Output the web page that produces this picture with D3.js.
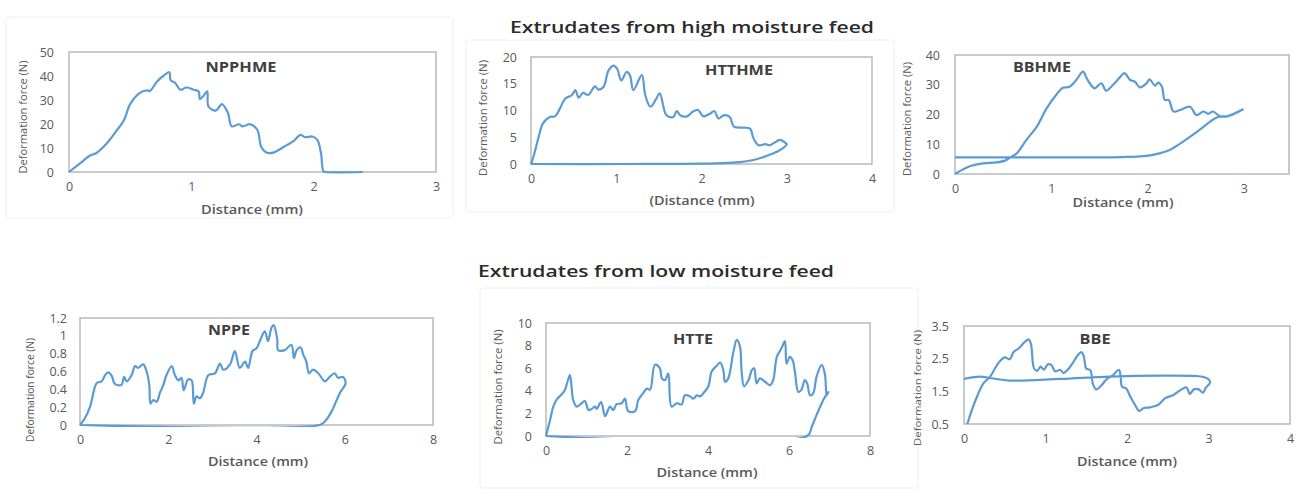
<!DOCTYPE html>
<html><head><meta charset="utf-8">
<script src="https://cdn.jsdelivr.net/npm/d3@7"></script>
<style>body{margin:0;background:#fff}svg{display:block}</style>
</head><body><svg id="c" width="1299" height="493"></svg>
<script>
// ---------- data (distance mm, force N) ----------
const npphme = [[0,0],[0.09,3.6],[0.17,6.8],[0.22,7.8],[0.31,12],[0.39,17.3],[0.45,21.7],[0.5,28.3],[0.58,33],[0.64,34],[0.66,33.7],[0.72,37.7],[0.77,40],[0.82,41.6],[0.83,38.4],[0.87,37],[0.91,34.3],[0.96,35.2],[1.02,34.3],[1.06,33.6],[1.07,30.4],[1.1,31.8],[1.13,33.6],[1.14,27.3],[1.2,25.6],[1.25,28.3],[1.3,24.5],[1.33,19],[1.39,19.9],[1.42,19],[1.48,19.9],[1.54,17.5],[1.57,10.6],[1.61,8.2],[1.67,8.1],[1.76,10.6],[1.84,13.1],[1.89,15.5],[1.93,14.5],[1.99,14.8],[2.03,13.4],[2.06,7.8],[2.08,0.3],[2.1,0],[2.4,0]];
const htthme = [[0,0],[0.03,1.4],[0.09,5.1],[0.14,7.6],[0.22,8.8],[0.28,8.9],[0.34,10.4],[0.4,12.2],[0.48,12.9],[0.52,13.8],[0.56,12.4],[0.61,13.3],[0.67,12.9],[0.75,14.5],[0.79,13.9],[0.85,14.4],[0.91,17.5],[0.97,18.4],[1.01,17.8],[1.06,15.6],[1.12,17.2],[1.16,16.6],[1.2,13.8],[1.3,16.6],[1.34,12.9],[1.4,10.7],[1.47,12.2],[1.51,13.2],[1.59,9.1],[1.67,8.8],[1.71,9.9],[1.75,9.1],[1.83,8.9],[1.9,9.8],[1.96,10.1],[2.02,8.9],[2.1,9.4],[2.15,9.9],[2.2,8.5],[2.26,9.1],[2.33,8.8],[2.38,7],[2.49,6.8],[2.57,6.6],[2.61,4.8],[2.67,3.5],[2.75,3.7],[2.8,3.5],[2.92,4.5],[2.98,4],[3.0,3.7],[2.92,2.6],[2.76,1.5],[2.61,0.75],[2.37,0.25],[1.98,0.06],[1.12,0],[0,0]];
const bbhme = [[0,0],[0.07,1.3],[0.16,2.7],[0.29,3.6],[0.43,3.9],[0.52,4.5],[0.57,5.5],[0.64,6.9],[0.74,11.4],[0.85,15.9],[0.95,22],[1.06,27],[1.12,29],[1.19,29.3],[1.26,31.6],[1.33,34.4],[1.37,32.1],[1.4,30.5],[1.45,28.8],[1.52,30.5],[1.57,28],[1.64,29.9],[1.71,32.4],[1.76,33.9],[1.82,31.6],[1.87,31],[1.92,29.1],[1.99,30.5],[2.02,31.8],[2.08,29.7],[2.11,30.7],[2.15,29.3],[2.18,24.9],[2.22,24.9],[2.27,21],[2.34,21.5],[2.44,22.6],[2.51,19.8],[2.58,21],[2.63,20.2],[2.68,21],[2.75,19.5],[2.82,19.3],[2.89,20.2],[2.99,21.7],[2.85,19.6],[2.72,19],[2.54,14.8],[2.37,10.9],[2.23,8.1],[2.09,6.7],[1.96,6],[1.75,5.7],[1.06,5.6],[0,5.6]];
const nppe = [[0,0],[0.11,0.075],[0.23,0.21],[0.38,0.47],[0.49,0.49],[0.57,0.56],[0.64,0.59],[0.72,0.55],[0.79,0.46],[0.94,0.45],[1.0,0.54],[1.06,0.49],[1.17,0.56],[1.25,0.66],[1.32,0.64],[1.43,0.68],[1.51,0.6],[1.57,0.45],[1.6,0.24],[1.66,0.28],[1.74,0.26],[1.81,0.36],[1.89,0.45],[1.96,0.56],[2.08,0.66],[2.15,0.56],[2.23,0.5],[2.3,0.53],[2.35,0.39],[2.45,0.51],[2.53,0.5],[2.58,0.24],[2.64,0.32],[2.72,0.3],[2.79,0.36],[2.91,0.56],[3.06,0.58],[3.17,0.69],[3.25,0.62],[3.4,0.68],[3.51,0.83],[3.62,0.64],[3.74,0.71],[3.81,0.64],[3.91,0.83],[4.0,0.86],[4.09,0.96],[4.19,1.05],[4.26,0.94],[4.34,1.09],[4.39,1.12],[4.47,0.96],[4.49,0.84],[4.64,0.84],[4.79,0.9],[4.85,0.75],[4.91,0.84],[5.0,0.87],[5.06,0.79],[5.13,0.71],[5.19,0.58],[5.28,0.62],[5.4,0.58],[5.55,0.49],[5.66,0.54],[5.77,0.58],[5.85,0.53],[5.96,0.54],[6.02,0.47],[5.89,0.36],[5.7,0.15],[5.55,0.04],[5.43,0],[0,0]];
const htte = [[0,0],[0.1,1.4],[0.18,2.6],[0.28,3.3],[0.39,3.7],[0.47,4.1],[0.53,4.8],[0.59,5.4],[0.63,4.4],[0.67,3.2],[0.76,2.6],[0.88,2.9],[0.96,3.1],[1.05,2.3],[1.13,2.4],[1.21,2.6],[1.25,2.4],[1.36,3.0],[1.46,1.75],[1.58,2.6],[1.66,2.3],[1.74,2.8],[1.87,2.9],[1.95,3.3],[2.03,2.2],[2.2,2.2],[2.28,3.2],[2.4,3.8],[2.49,4.2],[2.57,4.1],[2.69,6.3],[2.81,6.0],[2.86,5.1],[2.94,4.95],[3.02,5.55],[3.1,2.6],[3.23,2.9],[3.35,2.8],[3.43,3.6],[3.56,3.5],[3.64,3.3],[3.72,3.6],[3.8,3.5],[3.89,3.8],[4.01,4.4],[4.09,5.7],[4.21,6.2],[4.3,6.5],[4.38,5.8],[4.42,4.8],[4.5,5.1],[4.63,7.5],[4.71,8.5],[4.79,7.9],[4.83,5.7],[4.89,4.4],[5.0,4.95],[5.08,5.8],[5.14,6.0],[5.2,4.65],[5.28,5.1],[5.41,4.8],[5.53,4.5],[5.61,4.95],[5.7,7.0],[5.82,7.8],[5.9,8.4],[5.94,6.4],[6.02,7.0],[6.09,6.7],[6.15,5.55],[6.23,3.9],[6.31,4.1],[6.39,4.95],[6.45,4.65],[6.52,3.6],[6.6,3.8],[6.68,5.25],[6.81,6.3],[6.89,5.4],[6.93,3.6],[6.97,3.9],[6.85,3.2],[6.68,1.85],[6.56,0.8],[6.45,0],[0,0]];
const bbe = [[0.04,0.5],[0.09,0.88],[0.16,1.34],[0.24,1.75],[0.32,1.95],[0.38,2.2],[0.42,2.36],[0.5,2.54],[0.56,2.48],[0.61,2.71],[0.67,2.81],[0.71,2.92],[0.75,3.02],[0.79,3.09],[0.82,2.97],[0.86,2.2],[0.9,2.13],[0.94,2.26],[0.98,2.16],[1.03,2.33],[1.07,2.31],[1.12,2.11],[1.18,2.16],[1.22,2.06],[1.28,2.18],[1.34,2.39],[1.4,2.62],[1.44,2.7],[1.47,2.57],[1.5,2.2],[1.55,2.15],[1.58,1.74],[1.62,1.56],[1.67,1.64],[1.75,1.87],[1.83,2.0],[1.9,2.16],[1.92,2.0],[1.94,1.64],[1.99,1.59],[2.04,1.34],[2.1,1.08],[2.15,0.9],[2.2,0.98],[2.28,1.01],[2.38,1.08],[2.47,1.29],[2.57,1.39],[2.67,1.56],[2.73,1.62],[2.77,1.42],[2.82,1.56],[2.88,1.56],[2.93,1.46],[2.97,1.62],[3.02,1.77],[3.0,1.87],[2.94,1.94],[2.85,1.97],[2.4,1.98],[1.79,1.95],[1.18,1.88],[0.56,1.83],[0.34,1.9],[0.2,1.95],[0,1.88]];

const npphmeXTicks=[0,1,2,3], npphmeYTicks=[0,10,20,30,40,50];
const htthmeXTicks=[0,1,2,3,4], htthmeYTicks=[0,5,10,15,20];
const bbhmeXTicks=[0,1,2,3], bbhmeYTicks=[0,10,20,30,40];
const nppeXTicks=[0,2,4,6,8], nppeYTicks=[0,0.2,0.4,0.6,0.8,1,1.2];
const htteXTicks=[0,2,4,6,8], htteYTicks=[0,2,4,6,8,10];
const bbeXTicks=[0,1,2,3,4], bbeYTicks=[0.5,1.5,2.5,3.5];
const titles=["Extrudates from high moisture feed","Extrudates from low moisture feed"];

// ---------- layout ----------
const panels=[
 {name:"NPPHME",data:npphme,xt:npphmeXTicks,yt:npphmeYTicks,xd:[0,3],yd:[0,50],L:69,R:436,T:52,B:172,yr:54,lab:[241,67],lw:71,xtitle:"Distance (mm)",xtx:252,xty:209,xw:102,ytx:23,yty:117,yw:113},
 {name:"HTTHME",data:htthme,xt:htthmeXTicks,yt:htthmeYTicks,xd:[0,4],yd:[0,20],L:531,R:872,T:57,B:164,yr:517,lab:[739,70],lw:68,xtitle:"(Distance (mm)",xtx:702,xty:200,xw:105,ytx:483,yty:118,yw:116},
 {name:"BBHME",data:bbhme,xt:bbhmeXTicks,yt:bbhmeYTicks,xd:[0,3.47],yd:[0,40],L:955,R:1289,T:55,B:174,yr:940,lab:[1042,67],lw:58,xtitle:"Distance (mm)",xtx:1123,xty:202,xw:101,ytx:907,yty:119,yw:114},
 {name:"NPPE",data:nppe,xt:nppeXTicks,yt:nppeYTicks,xd:[0,8],yd:[0,1.2],L:80,R:433,T:318,B:425,yr:67,lab:[229,330],lw:42,xtitle:"Distance (mm)",xtx:258,xty:461,xw:100,ytx:30,yty:390,yw:104},
 {name:"HTTE",data:htte,xt:htteXTicks,yt:htteYTicks,xd:[0,8],yd:[0,10],L:546,R:870,T:323,B:436,yr:532,lab:[693,339],lw:40,xtitle:"Distance (mm)",xtx:707,xty:472,xw:101,ytx:498,yty:387,yw:115},
 {name:"BBE",data:bbe,xt:bbeXTicks,yt:bbeYTicks,xd:[0,4],yd:[0.5,3.5],L:964,R:1290,T:326,B:424,yr:949,lab:[1095,339],lw:31,xtitle:"Distance (mm)",xtx:1127,xty:461,xw:100,ytx:917,yty:388,yw:116}
];
const cards=[[6,17,447,201],[466,40,428,172],[480,288,438,200]];

const svg=d3.select("#c");
const F="'Open Sans', 'Noto Sans', sans-serif";
cards.forEach(c=>svg.append("rect").attr("x",c[0]).attr("y",c[1]).attr("width",c[2]).attr("height",c[3]).attr("rx",3).attr("fill","none").attr("stroke","#efefef").attr("stroke-width",1));

svg.append("text").attr("x",692).attr("y",33).attr("text-anchor","middle").attr("font-family",F).attr("font-weight",600).attr("font-size",17).attr("fill","#2b2b2b").attr("textLength",364).attr("lengthAdjust","spacingAndGlyphs").text(titles[0]);
svg.append("text").attr("x",656).attr("y",277).attr("text-anchor","middle").attr("font-family",F).attr("font-weight",600).attr("font-size",17).attr("fill","#2b2b2b").attr("textLength",356).attr("lengthAdjust","spacingAndGlyphs").text(titles[1]);

panels.forEach((p,i)=>{
  const x=d3.scaleLinear().domain(p.xd).range([p.L,p.R]);
  const y=d3.scaleLinear().domain(p.yd).range([p.B,p.T]);
  const g=svg.append("g");
  const cid="clip"+i;
  g.append("clipPath").attr("id",cid).append("rect").attr("x",p.L-2).attr("y",p.T-2).attr("width",p.R-p.L+4).attr("height",p.B-p.T+4);
  g.append("rect").attr("x",p.L).attr("y",p.T).attr("width",p.R-p.L).attr("height",p.B-p.T).attr("fill","none").attr("stroke","#bdbdbd").attr("stroke-width",1.6);
  const xa=d3.axisBottom(x).tickValues(p.xt).tickSize(0).tickPadding(10).tickFormat(d3.format("~g"));
  const ya=d3.axisLeft(y).tickValues(p.yt).tickSize(0).tickPadding(p.L-p.yr).tickFormat(d3.format("~g"));
  const gx=g.append("g").attr("transform",`translate(0,${p.B})`).call(xa);
  const gy=g.append("g").attr("transform",`translate(${p.L},0)`).call(ya);
  [gx,gy].forEach(a=>{a.select(".domain").remove();a.selectAll("text").attr("font-family",F).attr("font-size",12.5).attr("font-weight",500).attr("fill","#595959");});
  g.append("path").datum(p.data).attr("clip-path",`url(#${cid})`)
   .attr("d",d3.line().x(d=>x(d[0])).y(d=>y(d[1])).curve(d3.curveCatmullRom.alpha(0.5)))
   .attr("fill","none").attr("stroke","#5b9bd5").attr("stroke-width",2.2).attr("stroke-linejoin","round");
  g.append("text").attr("x",p.lab[0]).attr("y",p.lab[1]+5).attr("text-anchor","middle").attr("font-family",F).attr("font-weight",700).attr("font-size",13.5).attr("fill","#404040").attr("textLength",p.lw).attr("lengthAdjust","spacingAndGlyphs").text(p.name);
  g.append("text").attr("x",p.xtx).attr("y",p.xty+5).attr("text-anchor","middle").attr("font-family",F).attr("font-weight",600).attr("font-size",13).attr("fill","#595959").attr("textLength",p.xw).attr("lengthAdjust","spacingAndGlyphs").text(p.xtitle);
  g.append("text").attr("transform",`translate(${p.ytx+4},${p.yty}) rotate(-90)`).attr("text-anchor","middle").attr("font-family",F).attr("font-size",i==5?9:11.5).attr("fill","#595959").attr("textLength",p.yw).attr("lengthAdjust","spacingAndGlyphs").text("Deformation force (N)");
});
</script></body></html>
